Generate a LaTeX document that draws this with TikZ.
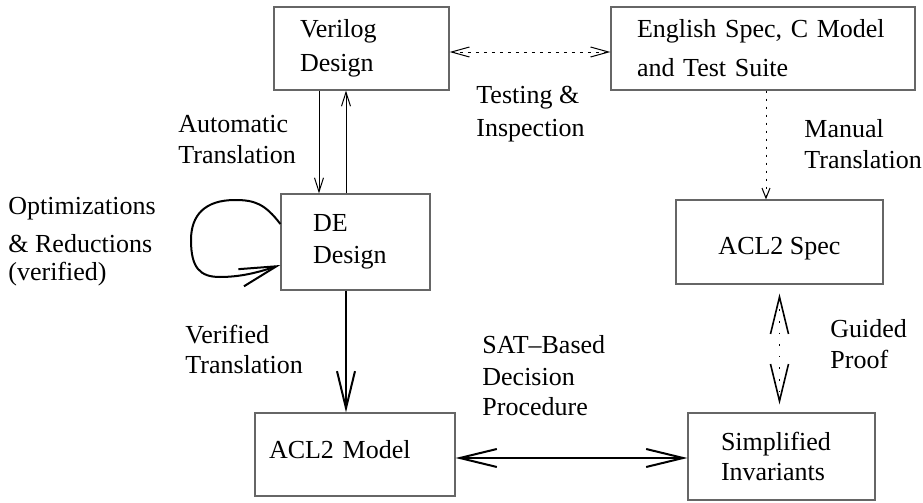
\documentclass[tikz,border=0pt]{standalone}
\usepackage{fontspec}
\setmainfont{Liberation Serif}
\usetikzlibrary{arrows.meta}

\begin{document}
\begin{tikzpicture}[x=0.5pt,y=-0.5pt,font=\fontsize{13}{16}\selectfont,
  smallbarb/.tip={Straight Barb[length=7pt,width=4.5pt]},
  bigbarb/.tip={Straight Barb[length=18.5pt,width=9pt]},
  box/.style={draw=black!60,line width=0.6pt,inner ysep=0pt,align=left},
  lbl/.style={anchor=base west,align=left,inner sep=0pt},
  thin/.style={line width=0.5pt,-smallbarb},
  heavy/.style={line width=1pt,-bigbarb}]
\useasboundingbox (0,0) rectangle (923,503);

\node[box,minimum width=87.5pt,minimum height=41.5pt,text width=61.5pt,inner xsep=13pt] (verilog) at (361.5,48.5) {Verilog\\[1pt]Design};
\node[box,minimum width=152pt,minimum height=41.5pt,text width=126pt,inner xsep=13pt] (english) at (763,48.5) {English Spec, C Model\\[3.5pt]and Test Suite};
\node[box,minimum width=74.5pt,minimum height=48pt,text width=42.5pt,inner xsep=16pt] (de) at (355.5,242) {DE\\Design};
\node[box,minimum width=103.5pt,minimum height=42pt,text height=12pt,text depth=0pt] (spec) at (779.5,242) {ACL2 Spec};
\node[box,minimum width=100pt,minimum height=41.5pt,text width=86pt,inner xsep=7pt,text height=8pt,text depth=4.5pt] (model) at (355,454.5) {ACL2 Model};
\node[box,minimum width=93.5pt,minimum height=43.5pt,text width=60.5pt,inner xsep=16.5pt] (simp) at (781.5,456.5) {Simplified\\[-1pt]Invariants};

\draw[thin,dash pattern=on 1.5pt off 2.5pt,{Straight Barb[length=9pt,width=5pt]}-{Straight Barb[length=9pt,width=5pt]}] ([yshift=-1.75pt]verilog.east) -- ([yshift=-1.75pt]verilog.east -| english.west);
\draw[thin] ([xshift=-21.25pt]verilog.south) -- ([xshift=-21.25pt]verilog.south |- de.north);
\draw[thin] ([xshift=-4.75pt]de.north) -- ([xshift=-4.75pt]de.north |- verilog.south);
\draw[line width=0.5pt,dash pattern=on 1pt off 3pt,-{Straight Barb[length=5pt,width=4pt]}] ([xshift=1.5pt]english.south) -- ([xshift=1.5pt]english.south |- spec.north);

\draw[heavy] ([yshift=9pt]de.west) .. controls (265,204) and (255,200) .. (235,200) .. controls (205,200) and (191,215) .. (191,240) .. controls (191,268) and (200,277) .. (220,277) .. controls (245,277) and (265,270) .. ([yshift=-11.5pt]de.west);
\draw[heavy] ([xshift=-4.75pt]de.south) -- ([xshift=-4.75pt]de.south |- model.north);
\draw[heavy,bigbarb-bigbarb] ([yshift=-1.75pt]model.east) -- ([yshift=-1.75pt]model.east -| simp.west);
\draw[line width=0.8pt,dash pattern=on 0.8pt off 5pt,bigbarb-bigbarb,shorten <=4.5pt,shorten >=4pt] (spec.south) -- (spec.south |- simp.north);

\node[lbl] (testing) at (476,136) {Testing \&\\[0.5pt]Inspection};
\node[lbl] (manual) at (804,168) {Manual\\[-0.5pt]Translation};
\node[lbl] (auto) at (178,163) {Automatic\\[-0.5pt]Translation};
\node[lbl] (optim) at (8,280) {Optimizations\\[3pt]\& Reductions\\[-2pt](verified)};
\node[lbl] (verified) at (185,373) {Verified\\[-1pt]Translation};
\node[lbl] (sat) at (482,415) {SAT–Based\\Decision\\[-1pt]Procedure};
\node[lbl] (guided) at (830,368) {Guided\\[-0.5pt]Proof};
\end{tikzpicture}
\end{document}
